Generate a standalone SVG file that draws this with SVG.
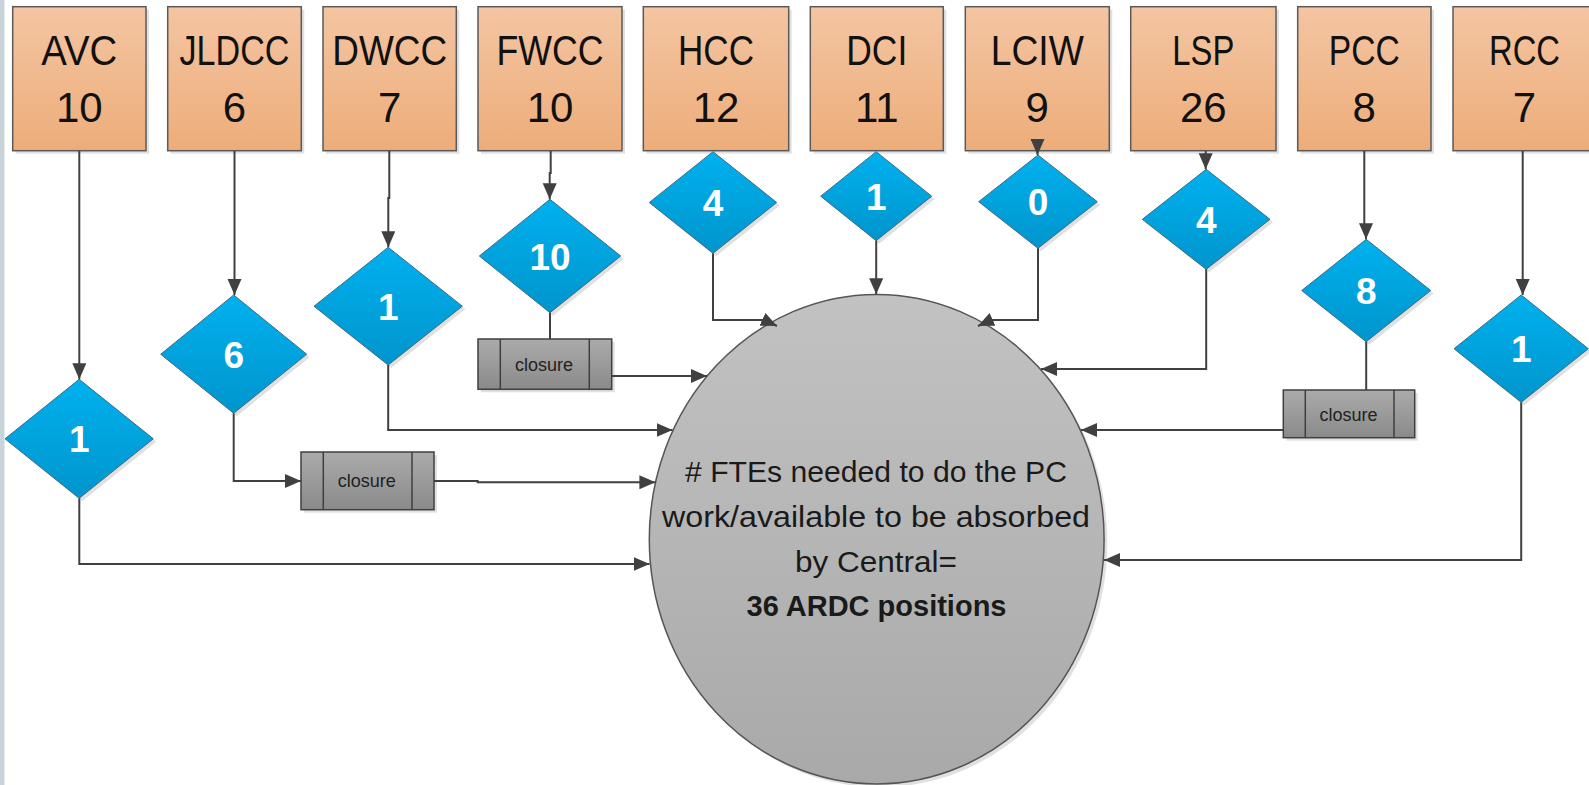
<svg xmlns="http://www.w3.org/2000/svg" width="1589" height="785" viewBox="0 0 1589 785">
<defs>
<linearGradient id="gBox" x1="0" y1="0" x2="0" y2="1"><stop offset="0" stop-color="#f4c5a2"/><stop offset="1" stop-color="#edad7a"/></linearGradient>
<linearGradient id="gDia" x1="0" y1="0" x2="0" y2="1"><stop offset="0" stop-color="#00b1ee"/><stop offset="1" stop-color="#0095cd"/></linearGradient>
<linearGradient id="gCl" x1="0" y1="0" x2="0" y2="1"><stop offset="0" stop-color="#ababab"/><stop offset="1" stop-color="#8a8a8a"/></linearGradient>
<linearGradient id="gCir" x1="0" y1="0" x2="0" y2="1"><stop offset="0" stop-color="#c2c2c2"/><stop offset="1" stop-color="#a9a9a9"/></linearGradient>
<marker id="arr" markerUnits="userSpaceOnUse" markerWidth="17" markerHeight="15" refX="16" refY="7" orient="auto"><path d="M0,0 L16,7 L0,14 z" fill="#404040"/></marker>
<style>
.box{fill:url(#gBox);stroke:#5a5a5a;stroke-width:1.5}
.dia{fill:url(#gDia);stroke:#3f6a85;stroke-width:1}
.cl{fill:url(#gCl);stroke:#3f3f3f;stroke-width:1.5}
.cli{stroke:#3f3f3f;stroke-width:1.5;fill:none}
.sh{fill:#000;opacity:0.12}
.lbl{font-family:"Liberation Sans",Arial,sans-serif;font-size:42px;fill:#111;text-anchor:middle}
.num{font-family:"Liberation Sans",Arial,sans-serif;font-size:37px;font-weight:bold;fill:#fff;text-anchor:middle}
.clt{font-family:"Liberation Sans",Arial,sans-serif;font-size:18px;fill:#222;text-anchor:middle}
.ct{font-family:"Liberation Sans",Arial,sans-serif;font-size:29px;fill:#1a1a1a;text-anchor:middle}
.cn{fill:none;stroke:#404040;stroke-width:2;marker-end:url(#arr)}
.cp{fill:none;stroke:#404040;stroke-width:2}
</style>
</defs>
<rect x="0" y="0" width="1589" height="785" fill="#fff"/>
<rect x="0" y="0" width="4.5" height="785" fill="#c9d3da"/>

<g id="circle">
<ellipse cx="880" cy="542.5" rx="227.4" ry="244.8" class="sh"/>
<ellipse cx="876.7" cy="539.2" rx="227.4" ry="244.8" fill="url(#gCir)" stroke="#555" stroke-width="1.5"/>
<text class="ct" x="876" y="481.7" textLength="382" lengthAdjust="spacingAndGlyphs"># FTEs needed to do the PC</text>
<text class="ct" x="876" y="526.7" textLength="428" lengthAdjust="spacingAndGlyphs">work/available to be absorbed</text>
<text class="ct" x="876" y="571.7" textLength="162" lengthAdjust="spacingAndGlyphs">by Central=</text>
<text class="ct" x="876.5" y="616" font-weight="bold">36 ARDC positions</text>
</g>

<g id="box-avc"><rect class="sh" x="15.7" y="9.7" width="133.3" height="144"/><rect class="box" x="12.7" y="6.7" width="133.3" height="144"/><text class="lbl" x="79.3" y="65" textLength="76" lengthAdjust="spacingAndGlyphs">AVC</text><text class="lbl" x="79.3" y="121.7">10</text></g>
<g id="box-jldcc"><rect class="sh" x="170.7" y="9.7" width="133.6" height="144"/><rect class="box" x="167.7" y="6.7" width="133.6" height="144"/><text class="lbl" x="234.5" y="65" textLength="110" lengthAdjust="spacingAndGlyphs">JLDCC</text><text class="lbl" x="234.5" y="121.7">6</text></g>
<g id="box-dwcc"><rect class="sh" x="326" y="9.7" width="133.3" height="144"/><rect class="box" x="323" y="6.7" width="133.3" height="144"/><text class="lbl" x="389.7" y="65" textLength="115" lengthAdjust="spacingAndGlyphs">DWCC</text><text class="lbl" x="389.7" y="121.7">7</text></g>
<g id="box-fwcc"><rect class="sh" x="481" y="9.7" width="144" height="144"/><rect class="box" x="478" y="6.7" width="144" height="144"/><text class="lbl" x="550" y="65" textLength="107" lengthAdjust="spacingAndGlyphs">FWCC</text><text class="lbl" x="550" y="121.7">10</text></g>
<g id="box-hcc"><rect class="sh" x="646.3" y="9.7" width="145.4" height="144"/><rect class="box" x="643.3" y="6.7" width="145.4" height="144"/><text class="lbl" x="716" y="65" textLength="76" lengthAdjust="spacingAndGlyphs">HCC</text><text class="lbl" x="716" y="121.7">12</text></g>
<g id="box-dci"><rect class="sh" x="813.3" y="9.7" width="133" height="144"/><rect class="box" x="810.3" y="6.7" width="133" height="144"/><text class="lbl" x="876.8" y="65" textLength="61" lengthAdjust="spacingAndGlyphs">DCI</text><text class="lbl" x="876.8" y="121.7">11</text></g>
<g id="box-lciw"><rect class="sh" x="968.3" y="9.7" width="144" height="144"/><rect class="box" x="965.3" y="6.7" width="144" height="144"/><text class="lbl" x="1037.3" y="65" textLength="93" lengthAdjust="spacingAndGlyphs">LCIW</text><text class="lbl" x="1037.3" y="121.7">9</text></g>
<g id="box-lsp"><rect class="sh" x="1133.7" y="9.7" width="145.3" height="144"/><rect class="box" x="1130.7" y="6.7" width="145.3" height="144"/><text class="lbl" x="1203.3" y="65" textLength="62" lengthAdjust="spacingAndGlyphs">LSP</text><text class="lbl" x="1203.3" y="121.7">26</text></g>
<g id="box-pcc"><rect class="sh" x="1300.7" y="9.7" width="133.3" height="144"/><rect class="box" x="1297.7" y="6.7" width="133.3" height="144"/><text class="lbl" x="1364.3" y="65" textLength="71" lengthAdjust="spacingAndGlyphs">PCC</text><text class="lbl" x="1364.3" y="121.7">8</text></g>
<g id="box-rcc"><rect class="sh" x="1456" y="9.7" width="143" height="144"/><rect class="box" x="1453" y="6.7" width="143" height="144"/><text class="lbl" x="1524.5" y="65" textLength="71" lengthAdjust="spacingAndGlyphs">RCC</text><text class="lbl" x="1524.5" y="121.7">7</text></g>

<g id="dia-avc"><polygon class="sh" points="82.2,382.3 156.3,441.8 82.2,501.3 8,441.8"/><polygon class="dia" points="79.2,379.3 153.3,438.8 79.2,498.3 5,438.8"/><text class="num" x="79.2" y="452.3">1</text></g>
<g id="dia-jldcc"><polygon class="sh" points="236.7,298 309.7,357.2 236.7,416.3 163.7,357.2"/><polygon class="dia" points="233.7,295 306.7,354.2 233.7,413.3 160.7,354.2"/><text class="num" x="233.7" y="367.7">6</text></g>
<g id="dia-dwcc"><polygon class="sh" points="391.2,250.3 465.3,309.2 391.2,368 317,309.2"/><polygon class="dia" points="388.2,247.3 462.3,306.2 388.2,365 314,306.2"/><text class="num" x="388.2" y="319.7">1</text></g>
<g id="dia-fwcc"><polygon class="sh" points="553,202.3 623.7,259 553,315.7 482.3,259"/><polygon class="dia" points="550,199.3 620.7,256 550,312.7 479.3,256"/><text class="num" x="550" y="269.5">10</text></g>
<g id="dia-hcc"><polygon class="sh" points="716,154.7 779.7,205.5 716,256.3 652.3,205.5"/><polygon class="dia" points="713,151.7 776.7,202.5 713,253.3 649.3,202.5"/><text class="num" x="713" y="216">4</text></g>
<g id="dia-dci"><polygon class="sh" points="879.2,154.7 934.7,199.2 879.2,243.7 823.7,199.2"/><polygon class="dia" points="876.2,151.7 931.7,196.2 876.2,240.7 820.7,196.2"/><text class="num" x="876.2" y="209.7">1</text></g>
<g id="dia-lciw"><polygon class="sh" points="1041,158 1100.3,204.7 1041,251.3 981.7,204.7"/><polygon class="dia" points="1038,155 1097.3,201.7 1038,248.3 978.7,201.7"/><text class="num" x="1038" y="215.2">0</text></g>
<g id="dia-lsp"><polygon class="sh" points="1209.2,172.3 1273,222.3 1209.2,272.3 1145.3,222.3"/><polygon class="dia" points="1206.2,169.3 1270,219.3 1206.2,269.3 1142.3,219.3"/><text class="num" x="1206.2" y="232.8">4</text></g>
<g id="dia-pcc"><polygon class="sh" points="1369.2,242.3 1433.7,293.5 1369.2,344.7 1304.7,293.5"/><polygon class="dia" points="1366.2,239.3 1430.7,290.5 1366.2,341.7 1301.7,290.5"/><text class="num" x="1366.2" y="304">8</text></g>
<g id="dia-rcc"><polygon class="sh" points="1524.2,298 1591.3,351.7 1524.2,405.3 1457,351.7"/><polygon class="dia" points="1521.2,295 1588.3,348.7 1521.2,402.3 1454,348.7"/><text class="num" x="1521.2" y="362.2">1</text></g>

<g id="closure-jldcc"><rect class="sh" x="304" y="455" width="133" height="57.7"/><rect class="cl" x="301" y="452" width="133" height="57.7"/><path class="cli" d="M323.3,452 V509.7 M412,452 V509.7"/><text class="clt" x="366.7" y="487.3">closure</text></g>
<g id="closure-fwcc"><rect class="sh" x="481" y="342" width="133.7" height="50.3"/><rect class="cl" x="478" y="339" width="133.7" height="50.3"/><path class="cli" d="M500.3,339 V389.3 M589.3,339 V389.3"/><text class="clt" x="544" y="370.7">closure</text></g>
<g id="closure-pcc"><rect class="sh" x="1286.3" y="393" width="131.4" height="47.7"/><rect class="cl" x="1283.3" y="390" width="131.4" height="47.7"/><path class="cli" d="M1305.3,390 V437.7 M1394,390 V437.7"/><text class="clt" x="1348.5" y="420.7">closure</text></g>

<g id="connectors">
<path class="cn" d="M79.3,151 V379.3"/>
<path class="cn" d="M79.3,498.3 V564 H649.5"/>
<path class="cn" d="M234.5,151 V295"/>
<path class="cn" d="M233.7,413.3 V481 H301"/>
<path class="cn" d="M434,481 H477.7 V482.3 H655.4"/>
<path class="cn" d="M389.3,151 V198 H388.3 V247.3"/>
<path class="cn" d="M388.2,365 V430 H672.5"/>
<path class="cn" d="M550.7,151 V173 H549.7 V199.3"/>
<path class="cp" d="M550,312.7 V339"/>
<path class="cn" d="M611.7,376 H707"/>
<path class="cn" d="M713,253.3 V320 H764 L777,326"/>
<path class="cn" d="M876.2,240.7 V294.3"/>
<path class="cn" d="M1037.5,151 V155"/>
<path class="cn" d="M1038,248.3 V320 H991 L978,326"/>
<path class="cn" d="M1205.7,151 V169.3"/>
<path class="cn" d="M1206.2,269.3 V369 H1041"/>
<path class="cn" d="M1364.3,151 V225 H1366 V239.3"/>
<path class="cp" d="M1366.2,341.7 V390"/>
<path class="cn" d="M1283.3,430 H1081"/>
<path class="cn" d="M1522.7,151 V295"/>
<path class="cn" d="M1521.2,402.3 V560 H1104"/>
</g>
</svg>
